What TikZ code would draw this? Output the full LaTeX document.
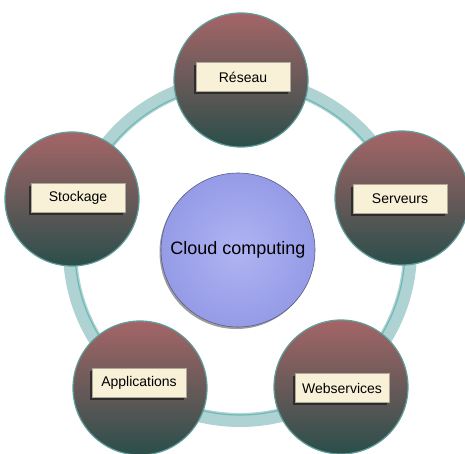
\documentclass[tikz,border=0pt]{standalone}
\usepackage{fontspec}
\setmainfont{Liberation Sans}
\usepackage{tikz}
\usetikzlibrary{shadows}

\definecolor{rosetop}{HTML}{A56567}
\definecolor{rosemid}{HTML}{5E5456}
\definecolor{tealbot}{HTML}{2B4E4A}
\definecolor{tealrim}{HTML}{5E9D9A}
\definecolor{ringteal}{HTML}{AFD3D3}
\definecolor{ringedge}{HTML}{6FB9B7}
\definecolor{cream}{HTML}{F8F1D8}
\definecolor{lavlight}{HTML}{B0B4F3}
\definecolor{lavdark}{HTML}{959BE6}

\tikzset{
  topic/.style={circle, minimum size=134pt, inner sep=0pt, draw=tealrim, line width=1.2pt,
    top color=rosetop, middle color=rosemid, bottom color=tealbot},
  tag/.style={rectangle, minimum width=94pt, minimum height=29pt, inner sep=0pt,
    fill=cream, draw=cream!70!black, line width=0.4pt, font=\fontsize{14}{16}\selectfont,
    drop shadow={shadow xshift=-2.5pt, shadow yshift=-2.5pt, fill=black!85, opacity=0.85}},
  cloud/.style={circle, minimum size=154pt, inner sep=0pt, draw=lavdark!60!black, line width=0.6pt,
    inner color=lavlight, outer color=lavdark, font=\fontsize{18}{20}\selectfont,
    drop shadow={shadow xshift=-1.5pt, shadow yshift=-2pt, fill=black!55, opacity=0.7}}
}

\begin{document}
\begin{tikzpicture}[x=1pt,y=-1pt]
\useasboundingbox (0,0) rectangle (465,453);

\coordinate (hub) at (240,250);

% ring behind everything
\draw[line width=14pt, color=ringteal] (hub) circle[radius=170pt];
\draw[line width=1.2pt, color=ringedge] (hub) circle[radius=165pt];

% outer topics
\node[topic] (reseau) at (241,80) {};
\node[topic] (serveurs) at (402,198) {};
\node[topic] (stockage) at (72,199) {};
\node[topic] (applications) at (140,388) {};
\node[topic] (webservices) at (341,387) {};

% labels
\node[tag] (reseautag) at (243,77) {Réseau};
\node[tag] (serveurstag) at (400,199) {Serveurs};
\node[tag] (stockagetag) at (78,198) {Stockage};
\node[tag] (applicationstag) at (139,383) {Applications};
\node[tag] (webservicestag) at (342,388) {Webservices};

% centre
\node[cloud] (cloudcomputing) at (238,250) {Cloud computing};
\end{tikzpicture}
\end{document}
